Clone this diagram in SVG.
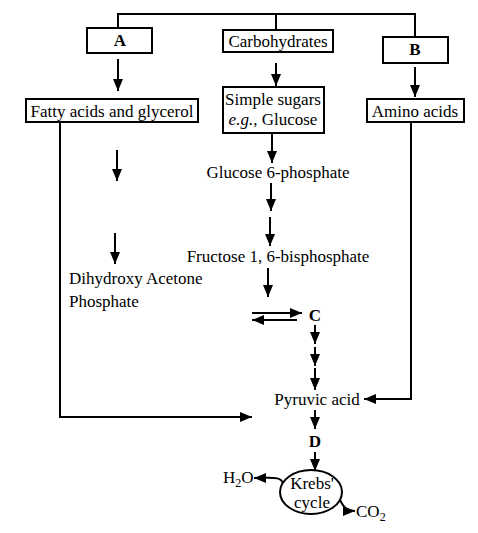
<svg xmlns="http://www.w3.org/2000/svg" width="478" height="533" viewBox="0 0 478 533">
<style>
text{font-family:"Liberation Serif","Times New Roman",serif;font-size:17px;fill:#000}
.b{font-weight:bold}
.box{fill:#fff;stroke:#000;stroke-width:2}
.ln{fill:none;stroke:#000;stroke-width:2}
.ar{fill:none;stroke:#000;stroke-width:2;marker-end:url(#ah)}
</style>
<defs>
<marker id="ah" markerUnits="userSpaceOnUse" markerWidth="13" markerHeight="13" viewBox="0 0 13 13" refX="12" refY="6.5" orient="auto">
<path d="M0,1.5 L12,6.5 L0,11.5 Z" fill="#000"/>
</marker>
</defs>
<rect width="478" height="533" fill="#fff"/>
<g id="connectors">
<path class="ln" d="M118,28 V14 H415 V37"/>
<path class="ln" d="M276,14 V30"/>
<line class="ar" x1="118" y1="59" x2="118" y2="91"/>
<line class="ar" x1="276" y1="63" x2="276" y2="86"/>
<line class="ar" x1="415" y1="67" x2="415" y2="97"/>
<line class="ar" x1="272" y1="133" x2="272" y2="163"/>
<line class="ar" x1="271" y1="183" x2="271" y2="211"/>
<line class="ar" x1="270" y1="217" x2="270" y2="246"/>
<line class="ar" x1="268" y1="268" x2="268" y2="297"/>
<line class="ar" x1="117" y1="150" x2="117" y2="181"/>
<line class="ar" x1="115" y1="233" x2="115" y2="264"/>
<line class="ar" x1="252" y1="313" x2="302" y2="313"/>
<line class="ar" x1="297" y1="320" x2="252" y2="320"/>
<line class="ar" x1="315" y1="325" x2="315" y2="344"/>
<line class="ar" x1="315" y1="347" x2="315" y2="366"/>
<line class="ar" x1="315" y1="368" x2="315" y2="390"/>
<line class="ar" x1="315" y1="410" x2="315" y2="429"/>
<line class="ar" x1="315" y1="452" x2="315" y2="471"/>
<path class="ar" d="M60,122 V417 H252"/>
<path class="ar" d="M411,122 V399 H364"/>
<path class="ar" d="M283,484 C282,476 272,478 254,478"/>
<path class="ar" d="M340,500 C344,508 347,511 355,511"/>
</g>
<g id="nodeA"><rect class="box" x="87" y="28" width="65" height="25"/><text class="b" x="120" y="46" text-anchor="middle">A</text></g>
<g id="nodeCarb"><rect class="box" x="223" y="30" width="110" height="22"/><text x="278" y="47" text-anchor="middle">Carbohydrates</text></g>
<g id="nodeB"><rect class="box" x="383" y="37" width="65" height="26"/><text class="b" x="415" y="55" text-anchor="middle">B</text></g>
<g id="nodeFatty"><rect class="box" x="26" y="99" width="172" height="23"/><text x="112" y="117" text-anchor="middle">Fatty acids and glycerol</text></g>
<g id="nodeSimple"><rect class="box" x="223" y="87" width="101" height="46"/><text x="273" y="105" text-anchor="middle">Simple sugars</text><text x="273" y="125" text-anchor="middle"><tspan font-style="italic">e.g.</tspan>, Glucose</text></g>
<g id="nodeAmino"><rect class="box" x="367" y="99" width="97" height="23"/><text x="415" y="117" text-anchor="middle">Amino acids</text></g>
<g id="nodeG6P"><text x="278" y="178" text-anchor="middle">Glucose 6-phosphate</text></g>
<g id="nodeF16"><text x="278" y="262" text-anchor="middle">Fructose 1, 6-bisphosphate</text></g>
<g id="nodeDHAP"><text x="69" y="284">Dihydroxy Acetone</text><text x="69" y="307">Phosphate</text></g>
<g id="nodeC"><text class="b" x="315" y="321" text-anchor="middle">C</text></g>
<g id="nodePyruvic"><text x="317" y="405" text-anchor="middle">Pyruvic acid</text></g>
<g id="nodeD"><text class="b" x="315" y="447" text-anchor="middle">D</text></g>
<g id="nodeKrebs"><ellipse cx="311" cy="492" rx="31" ry="22" fill="#fff" stroke="#000" stroke-width="2"/><text x="312" y="489" text-anchor="middle" font-size="16">Krebs'</text><text x="312" y="508" text-anchor="middle" font-size="16">cycle</text></g>
<g id="nodeH2O"><text x="223" y="483">H<tspan font-size="12" dy="4">2</tspan><tspan dy="-4">O</tspan></text></g>
<g id="nodeCO2"><text x="356" y="517">CO<tspan font-size="12" dy="4">2</tspan></text></g>
</svg>
